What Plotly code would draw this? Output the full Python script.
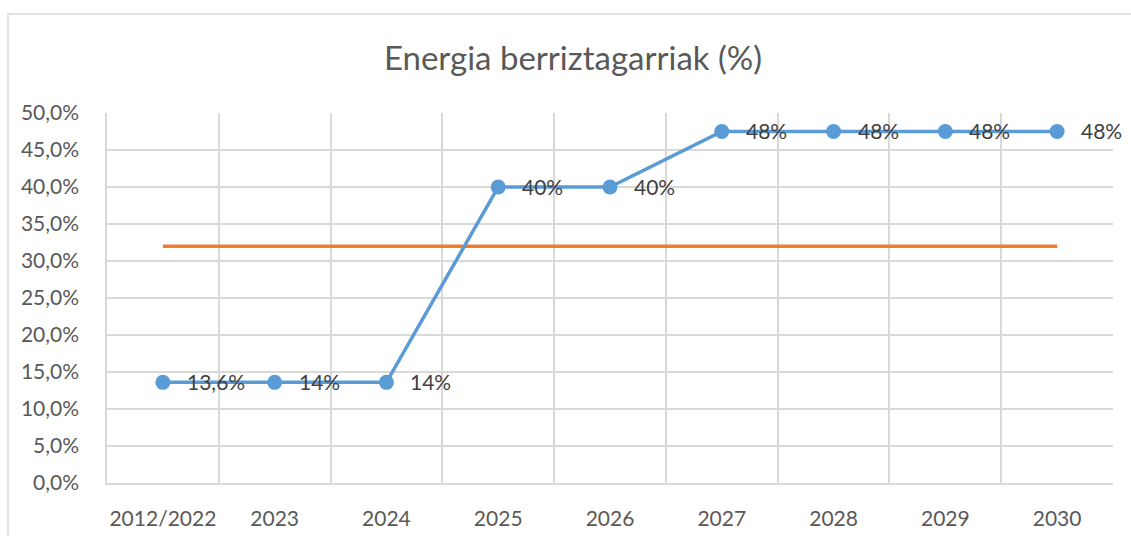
import plotly.graph_objects as go

categories = ["2012/2022", "2023", "2024", "2025", "2026", "2027", "2028", "2029", "2030"]
renewables = [13.6, 13.6, 13.6, 40.0, 40.0, 47.5, 47.5, 47.5, 47.5]
renewable_labels = ["13,6%", "14%", "14%", "40%", "40%", "48%", "48%", "48%", "48%"]
target = [32.0, 32.0, 32.0, 32.0, 32.0, 32.0, 32.0, 32.0, 32.0]
y_ticks = [0, 5, 10, 15, 20, 25, 30, 35, 40, 45, 50]
y_tick_text = [f"{v:.1f}".replace(".", ",") + "%" for v in y_ticks]

W, H = 1131, 536
L, R, T, B = 107, 18, 113, 53
pw = W - L - R
ph = H - T - B

FONT = "Lato"
TXT = "#595959"
GRID = "#D9D9D9"

fig = go.Figure()
fig.add_trace(go.Scatter(
    x=categories, y=target, mode="lines",
    line=dict(color="#ED7D31", width=3.5), hoverinfo="skip", showlegend=False,
))
fig.add_trace(go.Scatter(
    x=categories, y=renewables, mode="lines+markers",
    line=dict(color="#5B9BD5", width=3.5),
    marker=dict(color="#5B9BD5", size=15),
    showlegend=False,
))

for i, (v, t) in enumerate(zip(renewables, renewable_labels)):
    fig.add_annotation(x=i, y=v, text=t, showarrow=False, xanchor="left", yanchor="middle",
                       xshift=22, yshift=1, font=dict(family=FONT, size=21, color="#404040"))

def px_to_paper_x(px):
    return (px - L) / pw

def px_to_paper_y(py):
    return (H - B - py) / ph

fig.add_shape(type="rect", xref="paper", yref="paper",
              x0=px_to_paper_x(8), x1=px_to_paper_x(1140),
              y0=px_to_paper_y(545), y1=px_to_paper_y(14),
              line=dict(color="#D9D9D9", width=1.5), fillcolor="rgba(0,0,0,0)", layer="below")

fig.update_layout(
    width=W, height=H,
    margin=dict(l=L, r=R, t=T, b=B, pad=0, autoexpand=False),
    paper_bgcolor="white", plot_bgcolor="white",
    title=dict(text="Energia berriztagarriak (%)", x=573 / W, xref="container", xanchor="center",
               y=1 - 58 / H, yref="container", yanchor="middle",
               font=dict(family=FONT, size=33, color=TXT)),
    font=dict(family=FONT, size=21, color=TXT),
    xaxis=dict(type="category", range=[-0.5, 8.5], tickson="boundaries", showgrid=True,
               gridcolor=GRID, gridwidth=1.5, showline=True, linecolor=GRID, linewidth=1.5,
               ticks="", tickangle=0, ticklabelstandoff=16,
               tickfont=dict(family=FONT, size=21, color=TXT),
               zeroline=False, fixedrange=True, automargin=False),
    yaxis=dict(range=[0, 50], tickvals=y_ticks, ticktext=y_tick_text,
               showgrid=True, gridcolor=GRID, gridwidth=1.5, showline=True, linecolor=GRID,
               linewidth=1.5, ticks="", ticklabelstandoff=22, zeroline=False,
               tickfont=dict(family=FONT, size=21, color=TXT), fixedrange=True, automargin=False),
)

fig.write_html("out.html", config={"displayModeBar": False},
               post_script="document.body.style.margin='0';")
